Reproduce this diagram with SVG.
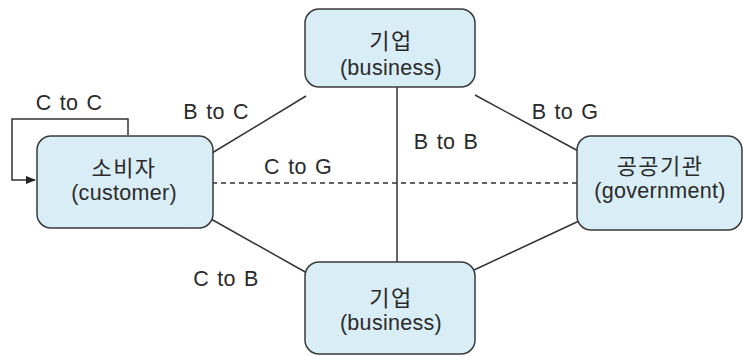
<svg xmlns="http://www.w3.org/2000/svg" width="743" height="356" viewBox="0 0 743 356">
<style>
.node{fill:#d9edf7;stroke:#3a3a3a;stroke-width:1.5}
.t{font-family:"Liberation Sans","Noto Sans CJK KR",sans-serif;font-size:21.5px;letter-spacing:0.3px;word-spacing:2px;fill:#2a2a2a;text-anchor:middle}
.k{font-family:"Noto Sans CJK KR",sans-serif;font-size:22px;letter-spacing:1.4px;fill:#2a2a2a;text-anchor:middle}
.c{stroke:#333;stroke-width:1.5;fill:none}
</style>
<defs><marker id="ah" markerWidth="10" markerHeight="8" refX="9" refY="4" orient="auto" markerUnits="userSpaceOnUse"><path d="M0,0 L10,4 L0,8 Z" fill="#222"/></marker></defs>
<rect width="743" height="356" fill="#fff"/>
<g id="connectors">
<path class="c" d="M128,135 V119 H12 V180 H35" marker-end="url(#ah)"/>
<line class="c" x1="212" y1="153" x2="306" y2="96"/>
<line class="c" x1="475" y1="95" x2="580" y2="152"/>
<line class="c" x1="397" y1="87" x2="397" y2="262"/>
<line class="c" x1="212" y1="183" x2="578" y2="183" stroke-dasharray="5,4"/>
<line class="c" x1="211" y1="219" x2="307" y2="273"/>
<line class="c" x1="474" y1="270" x2="579" y2="221"/>
<text class="t" x="69" y="110">C to C</text>
<text class="t" x="216" y="119">B to C</text>
<text class="t" x="565" y="119">B to G</text>
<text class="t" x="446" y="149">B to B</text>
<text class="t" x="298" y="174">C to G</text>
<text class="t" x="226" y="286">C to B</text>
</g>
<g id="customer"><rect class="node" x="37" y="136" width="176" height="92" rx="14"/><text class="k" x="124" y="176">소비자</text><text class="t" x="124" y="200">(customer)</text></g>
<g id="business-top"><rect class="node" x="305" y="9" width="170" height="78" rx="14"/><text class="k" x="391" y="49">기업</text><text class="t" x="391" y="75">(business)</text></g>
<g id="government"><rect class="node" x="577" y="136" width="165" height="94" rx="14"/><text class="k" x="660" y="174">공공기관</text><text class="t" x="660" y="198">(government)</text></g>
<g id="business-bottom"><rect class="node" x="305" y="262" width="170" height="92" rx="14"/><text class="k" x="391" y="306">기업</text><text class="t" x="391" y="330">(business)</text></g>
</svg>
